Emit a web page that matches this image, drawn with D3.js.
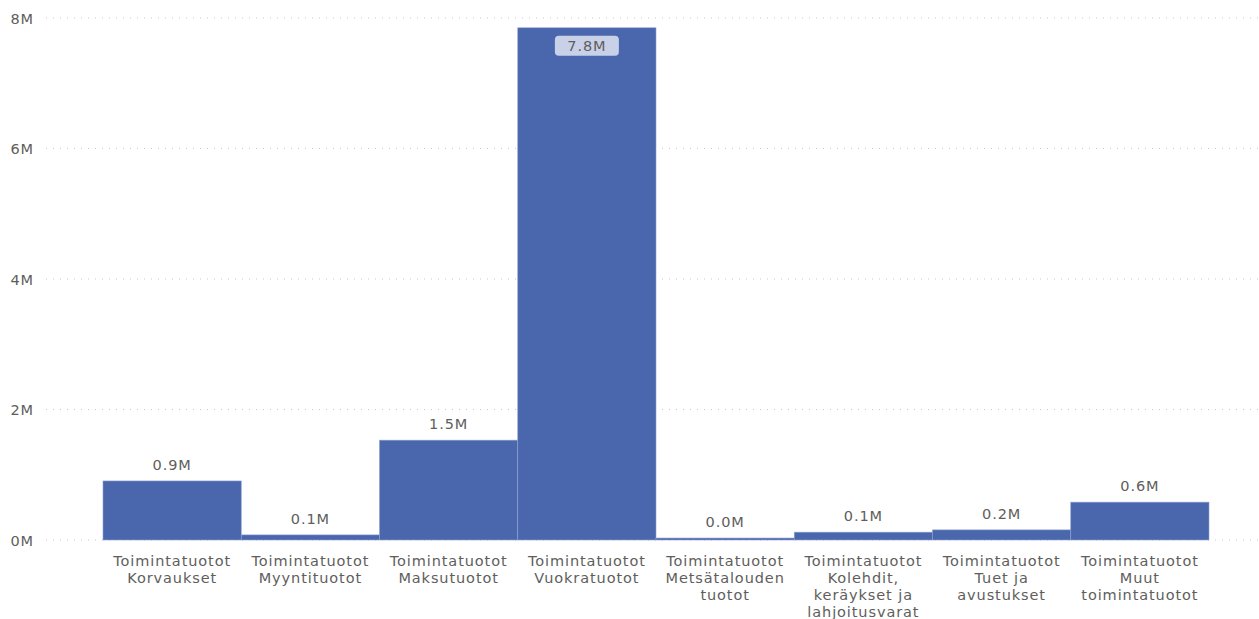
<!DOCTYPE html>
<html>
<head>
<meta charset="utf-8">
<script src="https://cdn.jsdelivr.net/npm/d3@7"></script>
<style>
  body { margin: 0; background: #fff; }
  svg text { font-family: "DejaVu Sans", Verdana, sans-serif; letter-spacing: 0.9px; }
</style>
</head>
<body>
<div id="chart"></div>
<script>
const categories = [
  ['Toimintatuotot', 'Korvaukset'],
  ['Toimintatuotot', 'Myyntituotot'],
  ['Toimintatuotot', 'Maksutuotot'],
  ['Toimintatuotot', 'Vuokratuotot'],
  ['Toimintatuotot', 'Metsätalouden', 'tuotot'],
  ['Toimintatuotot', 'Kolehdit,', 'keräykset ja', 'lahjoitusvarat'],
  ['Toimintatuotot', 'Tuet ja', 'avustukset'],
  ['Toimintatuotot', 'Muut', 'toimintatuotot']
];
const values = [905000, 78000, 1530000, 7850000, 30000, 120000, 155000, 580000];
const labels = ['0.9M', '0.1M', '1.5M', '7.8M', '0.0M', '0.1M', '0.2M', '0.6M'];
const yTicks = [0, 2000000, 4000000, 6000000, 8000000];

const width = 1259, height = 619;
const fs = 14.5;
const svg = d3.select('#chart').append('svg').attr('width', width).attr('height', height);

const x = d3.scaleBand().domain(d3.range(categories.length)).range([103, 1209]).padding(0);
const y = d3.scaleLinear().domain([0, 8000000]).range([540, 18]);

// gridlines
svg.append('g').selectAll('line').data(yTicks).join('line')
  .attr('x1', 46).attr('x2', width)
  .attr('y1', d => y(d)).attr('y2', d => y(d))
  .attr('stroke', '#c8c8c8').attr('stroke-width', 1)
  .attr('stroke-dasharray', '1,6');

const yAxis = d3.axisLeft(y).tickValues(yTicks).tickSize(0).tickPadding(0)
  .tickFormat(d => (d / 1e6) + 'M');
svg.append('g').attr('transform', 'translate(34,0)').call(yAxis)
  .call(g => g.select('.domain').remove())
  .selectAll('text')
  .attr('fill', '#605e5c').attr('font-size', fs).attr('dy', '0.35em')
  .style('font-family', '"DejaVu Sans", Verdana, sans-serif');

// bars
svg.append('g').selectAll('rect').data(values).join('rect')
  .attr('x', (d, i) => x(i))
  .attr('y', d => y(d))
  .attr('width', x.bandwidth())
  .attr('height', d => y(0) - y(d))
  .attr('fill', '#4a67ad')
  .attr('stroke', '#8ea0cf').attr('stroke-width', 0.6);

// data labels
const lg = svg.append('g');
values.forEach((v, i) => {
  const cx = x(i) + x.bandwidth() / 2;
  const inside = y(v) < 60;
  if (inside) {
    const ty = y(v) + 18;
    lg.append('rect')
      .attr('x', cx - 32).attr('y', ty - 10)
      .attr('width', 64).attr('height', 20).attr('rx', 4)
      .attr('fill', '#c9d1e8');
    lg.append('text').attr('x', cx).attr('y', ty).attr('dy', '0.35em')
      .attr('text-anchor', 'middle').attr('font-size', fs).attr('fill', '#605e5c')
      .text(labels[i]);
  } else {
    lg.append('text').attr('x', cx).attr('y', y(v) - 16).attr('dy', '0.35em')
      .attr('text-anchor', 'middle').attr('font-size', fs).attr('fill', '#605e5c')
      .text(labels[i]);
  }
});

// category labels
const cg = svg.append('g');
categories.forEach((lines, i) => {
  const t = cg.append('text')
    .attr('x', x(i) + x.bandwidth() / 2)
    .attr('y', 566)
    .attr('text-anchor', 'middle').attr('font-size', fs).attr('fill', '#605e5c');
  lines.forEach((ln, j) => {
    t.append('tspan').attr('x', x(i) + x.bandwidth() / 2).attr('dy', j === 0 ? 0 : 17).text(ln);
  });
});
</script>
</body>
</html>
